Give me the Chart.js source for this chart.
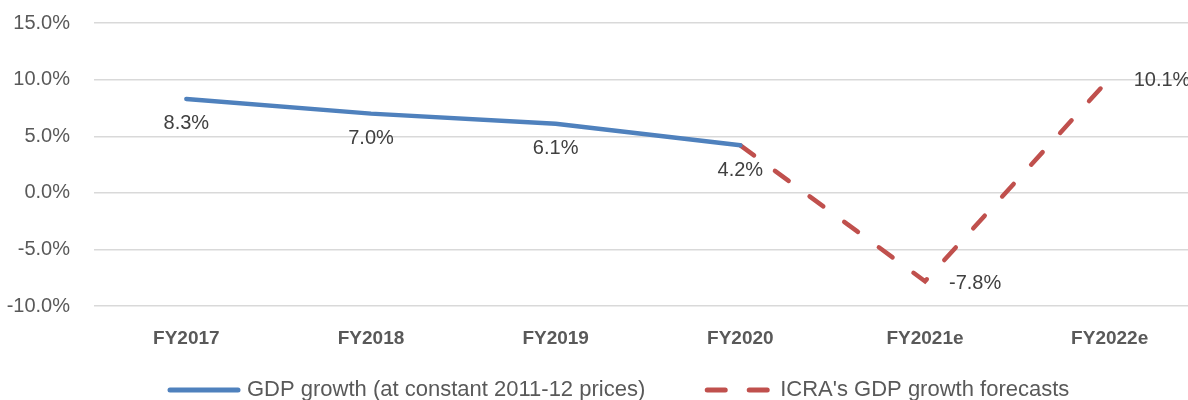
<!DOCTYPE html>
<html>
<head>
<meta charset="utf-8">
<script src="https://cdn.jsdelivr.net/npm/chart.js@4.4.0/dist/chart.umd.min.js"></script>
<style>
  html, body { margin: 0; padding: 0; background: #fff; overflow: hidden; }
  #wrap { width: 1202px; height: 413px; position: relative; margin-top: -13px; }
</style>
</head>
<body>
<div id="wrap"><canvas id="gdp-chart"></canvas></div>
<script>
const labels_year = ['FY2017', 'FY2018', 'FY2019', 'FY2020', 'FY2021e', 'FY2022e'];
const gdp_actual = [8.3, 7.0, 6.1, 4.2, null, null];
const gdp_forecast = [null, null, null, 4.2, -7.8, 10.1];
const y_ticks = [-10, -5, 0, 5, 10, 15];

const font_family = "'Liberation Sans', Arial, sans-serif";
const text_color = '#595959';

// value labels: actual series below the point, forecast to the right
const valueLabels = {
    id: 'valueLabels',
    afterDatasetsDraw(chart) {
        const ctx = chart.ctx;
        ctx.save();
        ctx.font = '20px ' + font_family;
        ctx.fillStyle = '#404040';
        ctx.textBaseline = 'middle';
        chart.data.datasets.forEach((ds, di) => {
            const meta = chart.getDatasetMeta(di);
            meta.data.forEach((pt, i) => {
                const v = ds.data[i];
                if (v === null) return;
                if (di === 1 && gdp_actual[i] !== null) return;
                const txt = v.toFixed(1) + '%';
                if (ds.labelPos === 'right') {
                    ctx.textAlign = 'left';
                    ctx.fillText(txt, pt.x + 24, pt.y + 2);
                } else {
                    ctx.textAlign = 'center';
                    ctx.fillText(txt, pt.x, pt.y + 25);
                }
            });
        });
        ctx.restore();
    }
};

// legend drawn as line samples like the original
const lineLegend = {
    id: 'lineLegend',
    afterDraw(chart) {
        const ctx = chart.ctx;
        ctx.save();
        ctx.font = '22px ' + font_family;
        ctx.textBaseline = 'middle';
        ctx.textAlign = 'left';
        const y = chart.height - 10;
        let x = 170;
        const sampleW = [68, 64];
        chart.data.datasets.forEach((ds, i) => {
            ctx.strokeStyle = ds.borderColor;
            ctx.lineWidth = 5;
            ctx.lineCap = 'round';
            ctx.setLineDash(i === 1 ? [18, 24] : []);
            ctx.beginPath();
            ctx.moveTo(x, y);
            ctx.lineTo(x + sampleW[i], y);
            ctx.stroke();
            ctx.setLineDash([]);
            x += sampleW[i] + 9;
            ctx.fillStyle = text_color;
            ctx.fillText(ds.label, x, y);
            x += ctx.measureText(ds.label).width + 62;
        });
        ctx.restore();
    }
};

const ctx = document.getElementById('gdp-chart');
new Chart(ctx, {
    type: 'line',
    data: {
        labels: labels_year,
        datasets: [
            {
                label: 'GDP growth (at constant 2011-12 prices)',
                data: gdp_actual,
                borderColor: '#4F81BD',
                borderWidth: 4.5,
                borderCapStyle: 'round',
                pointRadius: 0,
                tension: 0,
                labelPos: 'below'
            },
            {
                label: "ICRA's GDP growth forecasts",
                data: gdp_forecast,
                borderColor: '#C0504D',
                borderWidth: 4.5,
                borderDash: [17, 26],
                borderCapStyle: 'round',
                pointRadius: 0,
                tension: 0,
                labelPos: 'right'
            }
        ]
    },
    options: {
        responsive: true,
        maintainAspectRatio: false,
        animation: false,
        layout: { padding: { top: 9, left: 0, right: 0, bottom: 37 } },
        scales: {
            x: {
                offset: true,
                grid: { display: false },
                border: { display: false },
                ticks: {
                    color: text_color,
                    font: { family: font_family, size: 19, weight: 'bold' },
                    padding: 13,
                    maxRotation: 0
                }
            },
            y: {
                min: -10,
                max: 15,
                afterFit: (scale) => { scale.width = 94; },
                afterBuildTicks: (scale) => { scale.ticks = y_ticks.map(v => ({ value: v })); },
                grid: { color: '#D9D9D9', lineWidth: 1.5, drawTicks: false },
                border: { display: false },
                ticks: {
                    color: text_color,
                    font: { family: font_family, size: 20 },
                    padding: 24,
                    callback: (v) => v.toFixed(1) + '%'
                }
            }
        },
        plugins: {
            legend: { display: false },
            tooltip: { enabled: false }
        }
    },
    plugins: [valueLabels, lineLegend]
});
</script>
</body>
</html>
